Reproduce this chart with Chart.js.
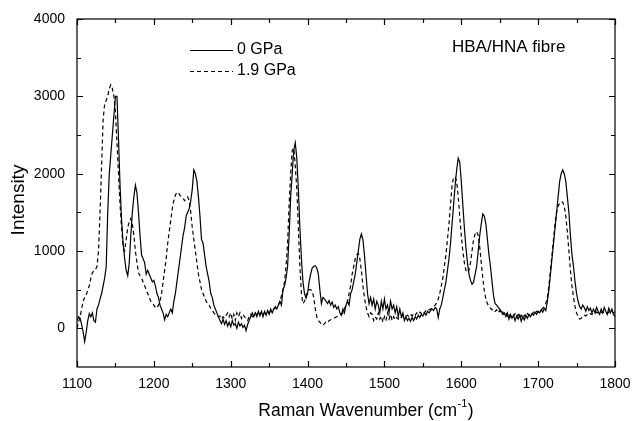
<!DOCTYPE html>
<html>
<head>
<meta charset="UTF-8">
<title>HBA/HNA fibre Raman spectra</title>
<script src="https://cdn.jsdelivr.net/npm/chart.js"></script>
<style>
  html, body { margin: 0; padding: 0; background: #fff; }
</style>
</head>
<body>
<canvas id="ramanChart" width="632" height="421"></canvas>
<script>
// Raman wavenumber (cm-1), step 2
const wavenumber = [
  1100,1102,1104,1106,1108,1110,1112,1114,1116,1118,
  1120,1122,1124,1126,1128,1130,1132,1134,1136,1138,
  1140,1142,1144,1146,1148,1150,1152,1154,1156,1158,
  1160,1162,1164,1166,1168,1170,1172,1174,1176,1178,
  1180,1182,1184,1186,1188,1190,1192,1194,1196,1198,
  1200,1202,1204,1206,1208,1210,1212,1214,1216,1218,
  1220,1222,1224,1226,1228,1230,1232,1234,1236,1238,
  1240,1242,1244,1246,1248,1250,1252,1254,1256,1258,
  1260,1262,1264,1266,1268,1270,1272,1274,1276,1278,
  1280,1282,1284,1286,1288,1290,1292,1294,1296,1298,
  1300,1302,1304,1306,1308,1310,1312,1314,1316,1318,
  1320,1322,1324,1326,1328,1330,1332,1334,1336,1338,
  1340,1342,1344,1346,1348,1350,1352,1354,1356,1358,
  1360,1362,1364,1366,1368,1370,1372,1374,1376,1378,
  1380,1382,1384,1386,1388,1390,1392,1394,1396,1398,
  1400,1402,1404,1406,1408,1410,1412,1414,1416,1418,
  1420,1422,1424,1426,1428,1430,1432,1434,1436,1438,
  1440,1442,1444,1446,1448,1450,1452,1454,1456,1458,
  1460,1462,1464,1466,1468,1470,1472,1474,1476,1478,
  1480,1482,1484,1486,1488,1490,1492,1494,1496,1498,
  1500,1502,1504,1506,1508,1510,1512,1514,1516,1518,
  1520,1522,1524,1526,1528,1530,1532,1534,1536,1538,
  1540,1542,1544,1546,1548,1550,1552,1554,1556,1558,
  1560,1562,1564,1566,1568,1570,1572,1574,1576,1578,
  1580,1582,1584,1586,1588,1590,1592,1594,1596,1598,
  1600,1602,1604,1606,1608,1610,1612,1614,1616,1618,
  1620,1622,1624,1626,1628,1630,1632,1634,1636,1638,
  1640,1642,1644,1646,1648,1650,1652,1654,1656,1658,
  1660,1662,1664,1666,1668,1670,1672,1674,1676,1678,
  1680,1682,1684,1686,1688,1690,1692,1694,1696,1698,
  1700,1702,1704,1706,1708,1710,1712,1714,1716,1718,
  1720,1722,1724,1726,1728,1730,1732,1734,1736,1738,
  1740,1742,1744,1746,1748,1750,1752,1754,1756,1758,
  1760,1762,1764,1766,1768,1770,1772,1774,1776,1778,
  1780,1782,1784,1786,1788,1790,1792,1794,1796,1798,
  1800
];

// intensity at 0 GPa (solid)
const gpa0 = [
  100,150,130,50,-50,-170,-50,100,190,150,
  200,100,80,250,300,380,450,550,650,800,
  1500,2000,2250,2500,2750,3000,3000,2450,1850,1400,
  1100,900,750,680,850,1200,1500,1700,1850,1750,
  1500,1200,950,900,850,700,750,700,650,600,
  620,550,450,400,300,250,200,110,180,150,
  200,250,200,350,450,600,750,900,1050,1200,
  1300,1450,1500,1550,1650,1800,2050,2000,1900,1700,
  1450,1150,1100,950,800,700,600,450,400,300,
  250,200,150,100,60,120,50,100,30,80,
  20,100,40,60,0,80,30,60,10,40,
  -30,50,100,150,200,150,200,150,220,160,
  220,150,220,170,230,180,250,200,250,280,
  250,300,350,300,500,550,650,800,1200,1700,
  2000,2300,2400,2200,1800,1300,900,600,450,390,
  450,600,700,780,800,810,780,700,500,320,
  400,380,350,320,360,300,340,270,300,250,
  280,200,170,250,200,300,350,300,450,500,
  600,700,850,1000,1150,1220,1150,950,700,450,
  320,400,300,380,250,350,300,200,350,250,
  380,250,300,200,350,250,300,200,280,150,
  250,150,200,100,150,100,130,90,140,100,
  150,120,170,140,180,160,200,170,220,200,
  230,250,230,270,250,140,250,300,400,500,
  600,750,900,1100,1350,1600,1850,2050,2200,2150,
  1900,1600,1300,1050,850,700,620,570,600,700,
  800,1000,1200,1350,1480,1450,1350,1150,950,800,
  600,420,320,300,270,250,220,180,200,150,
  200,120,180,130,170,100,160,120,170,90,
  150,110,170,130,180,150,190,170,210,180,
  220,200,240,210,260,230,350,500,700,900,
  1100,1300,1500,1700,1900,2000,2050,2000,1900,1700,
  1500,1200,950,800,600,450,350,280,250,300,
  270,220,280,230,260,200,250,200,270,220,
  180,250,200,270,220,180,260,200,250,180,
  150
];

// intensity at 1.9 GPa (dashed)
const gpa19 = [
  0,80,150,250,350,400,430,500,550,650,
  720,740,760,800,1000,1500,2100,2700,2900,2950,
  3000,3100,3150,3100,3000,2800,2400,2000,1600,1300,
  1050,1000,1150,1300,1380,1420,1350,1200,1000,850,
  720,680,650,600,550,500,450,400,350,330,
  300,270,260,300,350,450,600,750,900,1100,
  1250,1400,1550,1650,1720,1760,1750,1720,1700,1680,
  1650,1680,1700,1650,1500,1300,1150,1000,850,700,
  600,500,450,400,350,320,300,260,230,200,
  180,170,150,160,120,150,130,170,200,150,
  200,120,180,100,200,150,200,130,180,150,
  120,100,150,180,150,180,200,170,200,180,
  210,180,200,190,220,200,220,230,250,260,
  280,300,350,420,500,600,800,1100,1600,2000,
  2300,2330,2100,1800,1300,800,450,320,350,420,
  480,500,500,480,400,250,150,100,80,50,
  40,60,80,70,100,110,120,130,140,150,
  160,170,180,200,250,300,350,450,550,700,
  800,900,950,970,900,750,550,400,280,200,
  150,200,180,100,150,120,200,120,160,80,
  150,100,200,120,180,100,150,110,140,120,
  150,140,170,150,160,170,150,180,160,190,
  170,200,180,210,190,220,200,230,220,240,
  250,260,280,300,330,380,450,550,650,800,
  950,1150,1350,1600,1850,1950,1960,1900,1700,1450,
  1200,1000,850,750,720,750,850,1000,1150,1220,
  1250,1200,1050,850,650,480,380,320,280,260,
  240,250,220,240,200,230,190,210,170,200,
  160,190,150,180,160,190,150,180,140,170,
  130,170,150,190,170,200,180,210,190,220,
  210,230,240,260,280,320,400,550,750,950,
  1150,1350,1500,1580,1620,1640,1630,1580,1450,1250,
  1000,750,550,400,280,200,150,120,130,150,
  170,160,180,170,190,180,200,190,210,200,
  190,210,200,220,200,190,210,200,220,200,
  210
];

const xTicks = [1100, 1200, 1300, 1400, 1500, 1600, 1700, 1800];
const xMinor = [1150, 1250, 1350, 1450, 1550, 1650, 1750];
const yTicks = [0, 1000, 2000, 3000, 4000];
const yMinor = [500, 1500, 2500, 3500];

const FONT = '"Liberation Sans", Arial, Helvetica, sans-serif';

// frame with inward ticks on all four sides
const framePlugin = {
  id: 'frame',
  afterDatasetsDraw(chart) {
    const { ctx, chartArea: a, scales: { x, y } } = chart;
    ctx.save();
    ctx.strokeStyle = '#000';
    ctx.lineWidth = 1.2;
    ctx.strokeRect(a.left, a.top, a.right - a.left, a.bottom - a.top);
    ctx.beginPath();
    const xt = (v, len) => {
      const px = Math.round(x.getPixelForValue(v)) + 0.5;
      ctx.moveTo(px, a.bottom); ctx.lineTo(px, a.bottom - len);
      ctx.moveTo(px, a.top); ctx.lineTo(px, a.top + len);
    };
    const yt = (v, len) => {
      const py = Math.round(y.getPixelForValue(v)) + 0.5;
      ctx.moveTo(a.left, py); ctx.lineTo(a.left + len, py);
      ctx.moveTo(a.right, py); ctx.lineTo(a.right - len, py);
    };
    xTicks.forEach(v => xt(v, 6));
    xMinor.forEach(v => xt(v, 4));
    yTicks.forEach(v => yt(v, 6));
    yMinor.forEach(v => yt(v, 4));
    ctx.stroke();
    ctx.restore();
  },
  afterDraw(chart) {
    const { ctx } = chart;
    ctx.save();
    ctx.fillStyle = '#000';
    ctx.strokeStyle = '#000';

    // legend
    ctx.lineWidth = 1.2;
    ctx.beginPath();
    ctx.moveTo(190, 50.5); ctx.lineTo(233, 50.5);
    ctx.stroke();
    ctx.setLineDash([4, 3]);
    ctx.beginPath();
    ctx.moveTo(190, 71.5); ctx.lineTo(233, 71.5);
    ctx.stroke();
    ctx.setLineDash([]);
    ctx.font = '16px ' + FONT;
    ctx.textBaseline = 'middle';
    ctx.textAlign = 'left';
    ctx.fillText(chart.data.datasets[0].label, 237, 50);
    ctx.fillText(chart.data.datasets[1].label, 237, 71);

    // sample name
    ctx.font = '17px ' + FONT;
    ctx.fillText('HBA/HNA fibre', 452, 47);

    // y axis title
    ctx.save();
    ctx.translate(19, 200);
    ctx.rotate(-Math.PI / 2);
    ctx.textAlign = 'center';
    ctx.font = '19px ' + FONT;
    ctx.fillText('Intensity', 0, 0);
    ctx.restore();

    // x axis title with superscript
    const main = 'Raman Wavenumber (cm';
    const sup = '-1';
    const end = ')';
    ctx.textBaseline = 'alphabetic';
    ctx.font = '17.5px ' + FONT;
    const wMain = ctx.measureText(main).width;
    const wEnd = ctx.measureText(end).width;
    ctx.font = '11px ' + FONT;
    const wSup = ctx.measureText(sup).width;
    const total = wMain + wSup + wEnd + 1;
    let sx = 366 - total / 2;
    ctx.font = '17.5px ' + FONT;
    ctx.fillText(main, sx, 416);
    ctx.font = '11px ' + FONT;
    ctx.fillText(sup, sx + wMain + 0.5, 407);
    ctx.font = '17.5px ' + FONT;
    ctx.fillText(end, sx + wMain + wSup + 1, 416);
    ctx.restore();
  }
};

const ctx = document.getElementById('ramanChart').getContext('2d');
new Chart(ctx, {
  type: 'line',
  data: {
    datasets: [
      {
        label: '0 GPa',
        data: wavenumber.map((w, i) => ({ x: w, y: gpa0[i] })),
        borderColor: '#000',
        borderWidth: 1.2,
        pointRadius: 0,
        tension: 0,
        fill: false
      },
      {
        label: '1.9 GPa',
        data: wavenumber.map((w, i) => ({ x: w, y: gpa19[i] })),
        borderColor: '#000',
        borderWidth: 1.2,
        borderDash: [4, 3],
        pointRadius: 0,
        tension: 0,
        fill: false
      }
    ]
  },
  options: {
    responsive: false,
    animation: false,
    devicePixelRatio: 1,
    layout: { padding: { top: 19, right: 17, left: 0, bottom: 0 } },
    plugins: {
      legend: { display: false },
      tooltip: { enabled: false }
    },
    scales: {
      x: {
        type: 'linear',
        min: 1100,
        max: 1800,
        afterBuildTicks: s => { s.ticks = xTicks.map(v => ({ value: v })); },
        afterFit: s => { s.height = 54; s.paddingLeft = 0; s.paddingRight = 0; },
        grid: { display: false, drawTicks: false },
        border: { display: false },
        ticks: {
          color: '#000',
          padding: 9,
          maxRotation: 0,
          callback: v => String(v),
          font: { family: FONT, size: 14 }
        }
      },
      y: {
        type: 'linear',
        min: -500,
        max: 4000,
        afterBuildTicks: s => { s.ticks = yTicks.map(v => ({ value: v })); },
        afterFit: s => { s.width = 77; s.paddingTop = 0; s.paddingBottom = 0; },
        grid: { display: false, drawTicks: false },
        border: { display: false },
        ticks: {
          color: '#000',
          padding: 12,
          callback: v => String(v),
          font: { family: FONT, size: 14 }
        }
      }
    }
  },
  plugins: [framePlugin]
});
</script>
</body>
</html>
